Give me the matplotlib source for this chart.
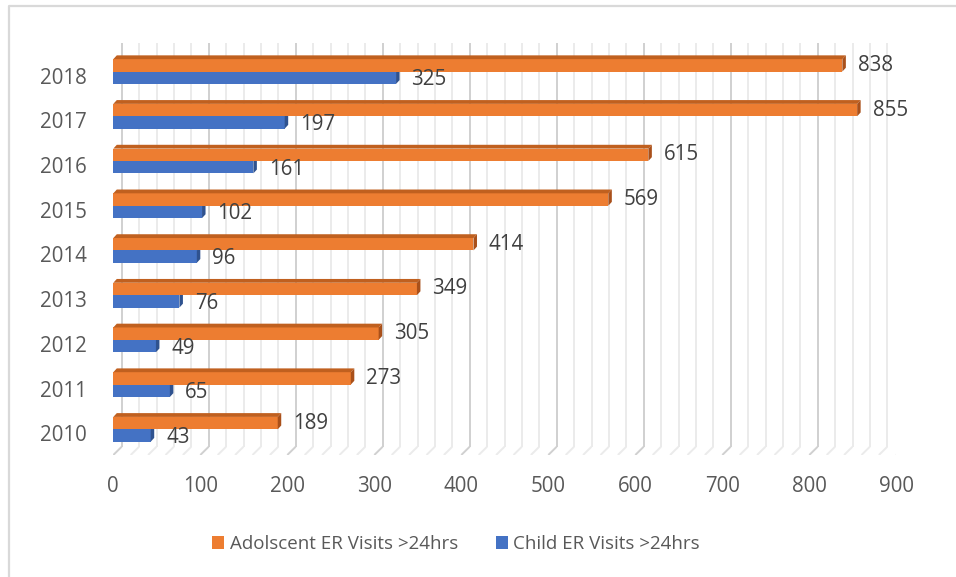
import matplotlib
matplotlib.use("Agg")
import matplotlib.pyplot as plt
from matplotlib.patches import Polygon, Patch
from matplotlib.lines import Line2D
import numpy as np

years = ["2010", "2011", "2012", "2013", "2014", "2015", "2016", "2017", "2018"]
adolescent = [189, 273, 305, 349, 414, 569, 615, 855, 838]
child = [43, 65, 49, 76, 96, 102, 161, 197, 325]
series_names = ["Adolscent ER Visits >24hrs", "Child ER Visits >24hrs"]
x_ticks = list(range(0, 901, 100))

ORANGE = "#ED7D31"
ORANGE_TOP = "#C0601F"
ORANGE_SIDE = "#A9501A"
BLUE = "#4472C4"
BLUE_TOP = "#36609F"
BLUE_SIDE = "#2F528F"
TEXT = "#404040"
AXTEXT = "#595959"

plt.rcParams['font.family'] = ['Open Sans', 'DejaVu Sans']

W, H = 956, 577
fig = plt.figure(figsize=(W / 100, H / 100), dpi=100)

# front plane of the 3D plot
x0_px, x900_px = 113.3, 896.3
y_top_px, y_bot_px = 40.0, 455.0
ax = fig.add_axes([x0_px / W, 1 - y_bot_px / H, (x900_px - x0_px) / W, (y_bot_px - y_top_px) / H])

# group centre pixel positions: 2010 at 429.3, spacing 44.72
c0, sp = 429.3, 44.72
ylo = (c0 - y_bot_px) / sp
yhi = (c0 - y_top_px) / sp
ax.set_xlim(0, 900)
ax.set_ylim(ylo, yhi)
for s in ax.spines.values():
    s.set_visible(False)

ppu_x = (x900_px - x0_px) / 900.0
ppu_y = sp

def dx(px):
    return px / ppu_x

def dy(px):
    return px / ppu_y

# wall / floor gridlines
depth_x, depth_y = dx(8.4), dy(8.3)
wall_top = (c0 - 42.7) / sp
wall_bot = ylo + depth_y
for v in range(0, 901, 20):
    major = (v % 100 == 0)
    col = "#D0D0D0" if major else "#EBEBEB"
    lw = 1.4
    ax.plot([v + depth_x, v + depth_x], [wall_bot, wall_top], color=col, lw=lw, zorder=1,
            solid_capstyle="butt")
    ax.plot([v + depth_x, v], [wall_bot, ylo], color=col, lw=lw, zorder=1,
            solid_capstyle="butt")

h = 0.277
ys = np.arange(len(years))
bx, by = dx(3.5), dy(3.8)

def bar3d(y_bottom, val, face, top, side, draw_top=True):
    ax.add_patch(Polygon([(0, y_bottom), (val, y_bottom), (val, y_bottom + h), (0, y_bottom + h)],
                         closed=True, facecolor=face, edgecolor="none", zorder=3))
    if draw_top:
        ax.add_patch(Polygon([(0, y_bottom + h), (val, y_bottom + h), (val + bx, y_bottom + h + by),
                              (bx, y_bottom + h + by)], closed=True, facecolor=top,
                             edgecolor="none", zorder=3))
    ax.add_patch(Polygon([(val, y_bottom), (val + bx, y_bottom + by), (val + bx, y_bottom + h + by),
                          (val, y_bottom + h)], closed=True, facecolor=side, edgecolor="none", zorder=3))

for i in ys:
    bar3d(i - h, child[i], BLUE, BLUE_TOP, BLUE_SIDE, draw_top=False)
    bar3d(i, adolescent[i], ORANGE, ORANGE_TOP, ORANGE_SIDE, draw_top=True)
    ax.annotate(str(adolescent[i]), (adolescent[i], i + h / 2), xytext=(15.5, 0),
                textcoords="offset pixels", va="center", ha="left", fontsize=14.8, color=TEXT,
                zorder=4)
    ax.annotate(str(child[i]), (child[i], i - h / 2), xytext=(15.5, -2),
                textcoords="offset pixels", va="center", ha="left", fontsize=14.8, color=TEXT,
                zorder=4)

ax.set_yticks(ys - 0.09)
ax.set_yticklabels(years, fontsize=14.8, color=AXTEXT)
ax.set_xticks(x_ticks)
ax.set_xticklabels([str(t) for t in x_ticks], fontsize=14.8, color=AXTEXT)
ax.tick_params(axis="y", length=0, pad=19)
ax.tick_params(axis="x", length=0, pad=15)

handles = [Patch(facecolor=ORANGE, edgecolor="none"), Patch(facecolor=BLUE, edgecolor="none")]
fig.legend(handles, series_names, loc="center", bbox_to_anchor=(456 / W, 1 - 544 / H),
           ncol=2, frameon=False, fontsize=13.5, handlelength=0.65, handleheight=0.65,
           handletextpad=0.3, columnspacing=2.0, labelcolor=AXTEXT)

# outer border
fig.add_artist(Line2D([8.5 / W, 8.5 / W, 1], [0, 1 - 6.3 / H, 1 - 6.3 / H],
                      transform=fig.transFigure, color="#D9D9D9", lw=1.6))

fig.savefig("out.png", dpi=100)
